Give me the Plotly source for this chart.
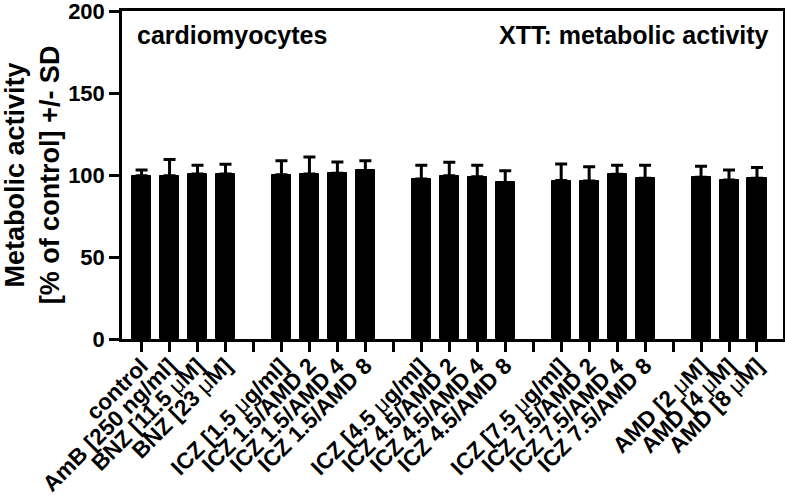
import plotly.graph_objects as go

# ---- data ----
groups = [
    ["control", "AmB [250 ng/ml]", "BNZ [11.5 μM]", "BNZ [23 μM]"],
    ["ICZ [1.5 μg/ml]", "ICZ 1.5/AMD 2", "ICZ 1.5/AMD 4", "ICZ 1.5/AMD 8"],
    ["ICZ [4.5 μg/ml]", "ICZ 4.5/AMD 2", "ICZ 4.5/AMD 4", "ICZ 4.5/AMD 8"],
    ["ICZ [7.5 μg/ml]", "ICZ 7.5/AMD 2", "ICZ 7.5/AMD 4", "ICZ 7.5/AMD 8"],
    ["AMD [2 μM]", "AMD [4 μM]", "AMD [8 μM]"],
]
means = [
    [99.6, 99.6, 100.6, 100.6],
    [100.2, 100.6, 101.0, 102.8],
    [97.6, 99.6, 99.0, 95.5],
    [96.6, 96.4, 100.4, 98.0],
    [98.6, 97.0, 98.0],
]
sds = [
    [3.4, 9.9, 5.4, 5.9],
    [8.5, 10.4, 7.0, 5.9],
    [8.4, 8.1, 7.0, 7.1],
    [10.1, 8.6, 5.6, 8.0],
    [6.8, 6.0, 6.6],
]

# build positions: one empty slot between groups
xs, ys, es = [], [], []
pos = 0
tickvals, ticktext = [], []
for gi, (g, m, s) in enumerate(zip(groups, means, sds)):
    for lab, v, e in zip(g, m, s):
        xs.append(pos)
        ys.append(v)
        es.append(e)
        tickvals.append(pos)
        ticktext.append(lab)
        pos += 1
    if gi < len(groups) - 1:
        tickvals.append(pos)
        ticktext.append("")
        pos += 1


def fmt(t):
    if not t:
        return t
    return "<b>" + t.replace("μ", "</b>μ<b>") + "</b>"


FONT = "Liberation Sans, Arial, sans-serif"

fig = go.Figure()
fig.add_trace(go.Bar(
    x=xs, y=ys, width=0.68,
    marker=dict(color="black", line=dict(color="black", width=1)),
    error_y=dict(type="data", symmetric=False, array=es,
                 arrayminus=[0] * len(es), color="black",
                 thickness=3, width=6),
    showlegend=False,
))

fig.update_layout(
    width=785, height=503,
    margin=dict(l=122, r=2, t=11, b=164, autoexpand=False),
    plot_bgcolor="white", paper_bgcolor="white",
    font=dict(family=FONT, color="black"),
    bargap=0,
    xaxis=dict(
        range=[-0.7, 22.93],
        tickmode="array", tickvals=tickvals, ticktext=[fmt(t) for t in ticktext],
        tickangle=-45, ticks="outside", ticklen=10, tickwidth=2.5, tickcolor="black",
        tickfont=dict(family=FONT, size=22.5, color="black"),
        ticklabeloverflow="allow", ticklabelstandoff=-8,
        showline=True, linecolor="black", linewidth=2.5, mirror=True,
        showgrid=False, zeroline=False, automargin=False,
    ),
    yaxis=dict(
        range=[0, 200], tickvals=[0, 50, 100, 150, 200],
        ticks="outside", ticklen=10, tickwidth=2.5, tickcolor="black",
        tickfont=dict(family=FONT, size=22, color="black", weight="bold"),
        ticklabeloverflow="allow",
        showline=True, linecolor="black", linewidth=2.5, mirror=True,
        showgrid=False, zeroline=False, automargin=False,
        title=dict(text="Metabolic activity<br>[% of control] +/- SD",
                   font=dict(family=FONT, size=27, color="black", weight="bold"),
                   standoff=10),
    ),
    annotations=[
        dict(text="cardiomyocytes", xref="paper", yref="paper", x=0.02, y=0.927,
             xanchor="left", yanchor="middle", showarrow=False,
             font=dict(family=FONT, size=25, color="black", weight="bold")),
        dict(text="XTT: metabolic activity", xref="paper", yref="paper", x=0.982, y=0.927,
             xanchor="right", yanchor="middle", showarrow=False,
             font=dict(family=FONT, size=25, color="black", weight="bold")),
    ],
)

fig.write_html("out.html", config={"displayModeBar": False},
               post_script="document.body.style.margin='0';")
